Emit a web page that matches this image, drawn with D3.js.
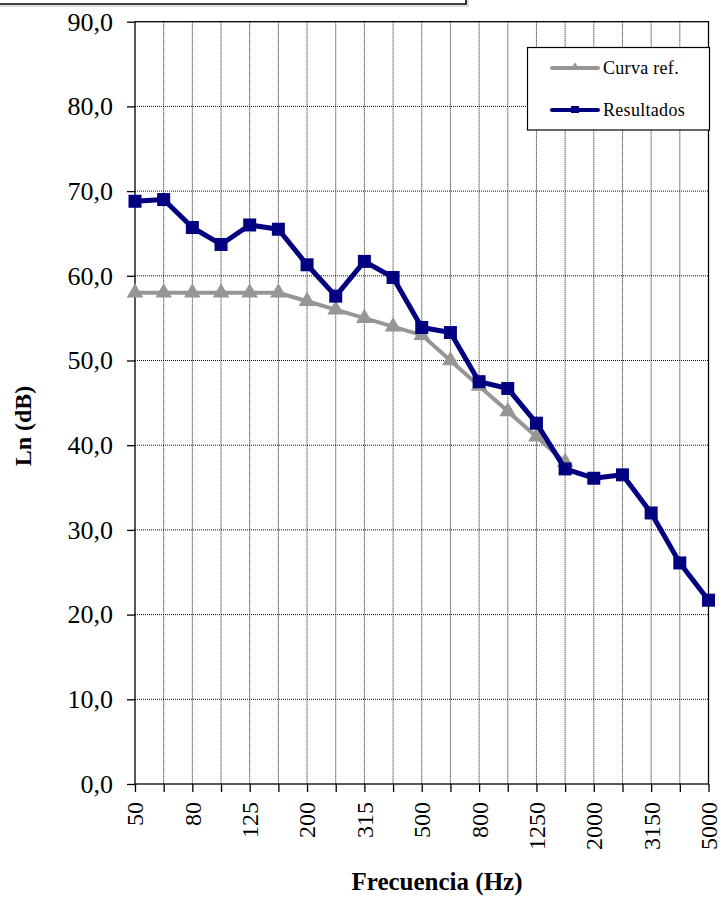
<!DOCTYPE html>
<html><head><meta charset="utf-8">
<script src="https://cdn.jsdelivr.net/npm/d3@7"></script>
<style>body{margin:0;background:#fff}svg{display:block}</style>
</head><body>
<svg id="c" width="721" height="897"></svg>
<script>
const categories = ["50","63","80","100","125","160","200","250","315","400","500","630","800","1000","1250","1600","2000","2500","3150","4000","5000"];
const shownLabels = ["50","80","125","200","315","500","800","1250","2000","3150","5000"];
const curvaRef = [58,58,58,58,58,58,57,56,55,54,53,50,47,44,41,38];
const resultados = [68.8,69.0,65.7,63.7,66.0,65.5,61.3,57.6,61.7,59.8,53.9,53.3,47.5,46.7,42.6,37.2,36.1,36.5,32.0,26.1,21.7];
const yTicks = [0,10,20,30,40,50,60,70,80,90];
const seriesNames = ["Curva ref.","Resultados"];

const svg = d3.select("#c");
const font = "'Liberation Serif','Times New Roman',serif";
const L = 135, R = 708.5, T = 21.7, B = 784;

const x = d3.scalePoint().domain(categories).range([L, R]);
const y = d3.scaleLinear().domain([0, 90]).range([B, T]);

// top frame fragment
svg.append("path").attr("d","M0,4 H466 V0").attr("fill","none").attr("stroke","#000").attr("stroke-width",1.6);
svg.append("path").attr("d","M0,6 H468 V0").attr("fill","none").attr("stroke","#bbb").attr("stroke-width",1);

// gridlines
const g = svg.append("g");
g.selectAll(".vg").data(categories.slice(1, -1)).join("line")
  .attr("x1", d => x(d)).attr("x2", d => x(d)).attr("y1", T).attr("y2", B)
  .attr("stroke", "#111").attr("stroke-width", 1).attr("stroke-dasharray", "1,1");
g.selectAll(".hg").data(yTicks.slice(1, -1)).join("line")
  .attr("x1", L).attr("x2", R).attr("y1", d => y(d)).attr("y2", d => y(d))
  .attr("stroke", "#111").attr("stroke-width", 1).attr("stroke-dasharray", "1,1");

// frame
svg.append("rect").attr("x", L).attr("y", T).attr("width", R - L).attr("height", B - T)
  .attr("fill", "none").attr("stroke", "#000").attr("stroke-width", 1.3);

// y axis
const yAxis = svg.append("g").attr("transform", `translate(${L},0)`)
  .call(d3.axisLeft(y).tickValues(yTicks).tickSize(8).tickPadding(14).tickFormat(d => d3.format(".1f")(d).replace(".", ",")));
yAxis.select(".domain").remove();
yAxis.selectAll("line").attr("stroke", "#000").attr("stroke-width", 1.3);
yAxis.selectAll("text").attr("font-family", font).attr("font-size", 26).attr("fill", "#000");

// x axis
const xAxis = svg.append("g").attr("transform", `translate(0,${B})`)
  .call(d3.axisBottom(x).tickSize(8).tickFormat(d => shownLabels.includes(d) ? d : ""));
xAxis.select(".domain").remove();
xAxis.selectAll("line").attr("stroke", "#000").attr("stroke-width", 1.3);
xAxis.selectAll("text").attr("font-family", font).attr("font-size", 24).attr("fill", "#000")
  .attr("transform", "rotate(-90)").attr("text-anchor", "end").attr("x", -18).attr("y", 0).attr("dy", "0.33em");

// axis titles
svg.append("text").attr("x", 437).attr("y", 890).attr("text-anchor", "middle")
  .attr("font-family", font).attr("font-weight", "bold").attr("font-size", 25).text("Frecuencia  (Hz)");
svg.append("text").attr("transform", "translate(31,426) rotate(-90)").attr("text-anchor", "middle")
  .attr("font-family", font).attr("font-weight", "bold").attr("font-size", 24).text("Ln (dB)");

const line = d3.line().x((d, i) => x(categories[i])).y(d => y(d));
const gray = "#969696", navy = "#000080";

// Curva ref
svg.append("path").datum(curvaRef).attr("d", line).attr("fill", "none")
  .attr("stroke", gray).attr("stroke-width", 4).attr("stroke-linejoin", "round");
const tri = d3.symbol().type(d3.symbolTriangle).size(120);
svg.selectAll(".tri").data(curvaRef).join("path")
  .attr("transform", (d, i) => `translate(${x(categories[i])},${y(d)})`)
  .attr("d", tri).attr("fill", gray);

// Resultados
svg.append("path").datum(resultados).attr("d", line).attr("fill", "none")
  .attr("stroke", navy).attr("stroke-width", 5).attr("stroke-linejoin", "round");
svg.selectAll(".sq").data(resultados).join("rect")
  .attr("x", (d, i) => x(categories[i]) - 6.5).attr("y", d => y(d) - 6.5)
  .attr("width", 13).attr("height", 13).attr("fill", navy);

// legend
const lg = svg.append("g");
lg.append("rect").attr("x", 527.5).attr("y", 47.5).attr("width", 182).attr("height", 82.5)
  .attr("fill", "#fff").attr("stroke", "#000").attr("stroke-width", 1.2);
const items = [{name: seriesNames[0], c: gray, y: 68, w: 4}, {name: seriesNames[1], c: navy, y: 110, w: 4}];
items.forEach((it, k) => {
  lg.append("line").attr("x1", 552).attr("x2", 598).attr("y1", it.y).attr("y2", it.y)
    .attr("stroke", it.c).attr("stroke-width", it.w).attr("stroke-linecap", "round");
  if (k === 0) lg.append("path").attr("transform", `translate(575,${it.y - 1})`).attr("d", d3.symbol().type(d3.symbolTriangle).size(30)).attr("fill", it.c);
  else lg.append("rect").attr("x", 571).attr("y", it.y - 4).attr("width", 8).attr("height", 7).attr("fill", it.c);
  lg.append("text").attr("x", 603).attr("y", it.y + 6).attr("font-family", font).attr("font-size", 18)
    .attr("letter-spacing", 0.3).text(it.name);
});
</script>
</body></html>
